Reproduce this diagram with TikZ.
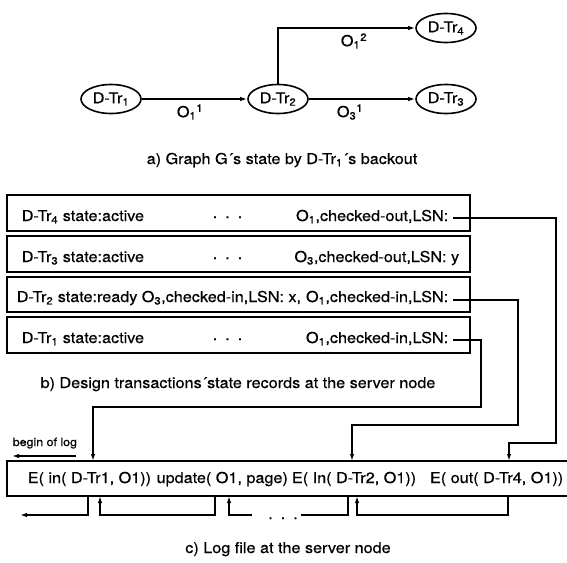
\documentclass[tikz,border=0pt]{standalone}
\usepackage{fontspec}
\setmainfont{TeX Gyre Heros}[FakeStretch=1.08, FakeBold=0.5]
\usetikzlibrary{shapes.geometric,arrows.meta}

\begin{document}
\begin{tikzpicture}[
  x=1pt, y=-1pt,
  line width=1.6pt,
  font=\fontsize{15}{18}\selectfont,
  txn/.style={ellipse, draw, minimum width=60pt, minimum height=29pt, inner sep=0pt},
  recbox/.style={rectangle, draw, minimum width=463pt, minimum height=36pt, inner sep=0pt},
  flow/.style={-{Latex[length=7pt,width=4.5pt]}},
  lbl/.style={inner sep=0pt},
  txtl/.style={inner sep=0pt, anchor=base west},
  txtr/.style={inner sep=0pt, anchor=base east},
  caption/.style={inner sep=0pt, anchor=base}
]
\useasboundingbox (0,0) rectangle (567,562);

% ---------- a) dependency graph ----------
\node[txn] (t1) at (111,99) {D-Tr\textsubscript{1}};
\node[txn] (t2) at (278,99) {D-Tr\textsubscript{2}};
\node[txn] (t3) at (446,99) {D-Tr\textsubscript{3}};
\node[txn] (t4) at (446,28) {D-Tr\textsubscript{4}};

\draw[flow] (t1) -- (t2);
\draw[flow] (t2) -- (t3);
\draw[flow] (t2.north) |- (t4.west);

\node[lbl] (o11) at (190,112) {O\textsubscript{1}\textsuperscript{1}};
\node[lbl] (o31) at (350,112) {O\textsubscript{3}\textsuperscript{1}};
\node[lbl] (o12) at (354,41) {O\textsubscript{1}\textsuperscript{2}};

\node[caption] (capa) at (282,164) {a) Graph G´s state by D-Tr\textsubscript{1}´s backout};

% ---------- b) state records ----------
\node[recbox] (r4) at (238.5,213) {};
\node[recbox] (r3) at (238.5,254) {};
\node[recbox, minimum height=35pt] (r2) at (238.5,294.5) {};
\node[recbox] (r1) at (238.5,335) {};

\node[txtl] (s4) at (21,221) {D-Tr\textsubscript{4} state:active};
\node[txtl] (d4) at (212,221) {\raisebox{3pt}{.\hspace{8pt}.\hspace{8pt}.}};
\node[txtr] (c4) at (449,221) {O\textsubscript{1},checked-out,LSN:};

\node[txtl] (s3) at (21,262) {D-Tr\textsubscript{3} state:active};
\node[txtl] (d3) at (212,262) {\raisebox{3pt}{.\hspace{8pt}.\hspace{8pt}.}};
\node[txtr] (c3) at (460,262) {O\textsubscript{3},checked-out,LSN: y};

\node[txtl] (s2) at (16,302) {D-Tr\textsubscript{2} state:ready};
\node[txtl] (c2a) at (141,302) {O\textsubscript{3},checked-in,LSN: x,};
\node[txtr] (c2b) at (449,302) {O\textsubscript{1},checked-in,LSN:};

\node[txtl] (s1) at (21,343) {D-Tr\textsubscript{1} state:active};
\node[txtl] (d1) at (212,343) {\raisebox{3pt}{.\hspace{8pt}.\hspace{8pt}.}};
\node[txtr] (c1) at (449,343) {O\textsubscript{1},checked-in,LSN:};

\node[caption] (capb) at (238,388) {b) Design transactions´state records at the server node};

% ---------- c) log file ----------
\coordinate (lbTR) at (580,461);
\coordinate (lbTL) at (7,461);
\coordinate (lbBL) at (7,496);
\coordinate (lbBR) at (580,496);
\draw (lbTR) -- (lbTL) -- (lbBL) -- (lbBR);

\node[txtl] (e1) at (27,483) {E( in( D-Tr1, O1))};
\node[txtl, xshift=4pt] (e2) at (e1.base east) {update( O1, page)};
\node[txtl, xshift=2.5pt] (e3) at (e2.base east) {E( In( D-Tr2, O1))};
\node[txtr] (e4) at (564,483) {E( out( D-Tr4, O1))};

\node[inner sep=0pt, anchor=base west, font=\fontsize{11.5}{14}\selectfont] (bol) at (12,446) {begin of log};
\coordinate (bolA) at (76,456);
\coordinate (bolB) at (12,456);
\draw[flow] (bolA) -- (bolB);

% pointers from the state records into the log
\coordinate (p4) at (453,218);
\coordinate (p2) at (453,300);
\coordinate (p1) at (453,340);
\coordinate (in1) at (93,461);
\coordinate (in2) at (352,461);
\coordinate (in4) at (509,461);
\draw[flow] (p1) -| (481,407) -| (in1);
\draw[flow] (p2) -| (518,425) -| (in2);
\draw[flow] (p4) -| (556,443) -| (in4);

% backward chain below the log records
\coordinate (b1) at (88,496);
\coordinate (b1e) at (20,515);
\draw[flow] (b1) |- (b1e);

\coordinate (b2) at (215,496);
\coordinate (b2e) at (100,496);
\draw[flow] (b2) |- (100,515) -- (b2e);

\coordinate (b3) at (348,496);
\coordinate (b3m) at (301,515);
\draw (b3) |- (b3m);
\coordinate (b3n) at (252,515);
\coordinate (b3e) at (229,496);
\draw[flow] (b3n) -| (b3e);
\node[inner sep=0pt, anchor=base] (gap) at (283,519) {.\hspace{8pt}.\hspace{8pt}.};

\coordinate (b4) at (508,496);
\coordinate (b4e) at (357,496);
\draw[flow] (b4) |- (357,515) -- (b4e);

\node[caption] (capc) at (288,553) {c) Log file at the server node};
\end{tikzpicture}
\end{document}
